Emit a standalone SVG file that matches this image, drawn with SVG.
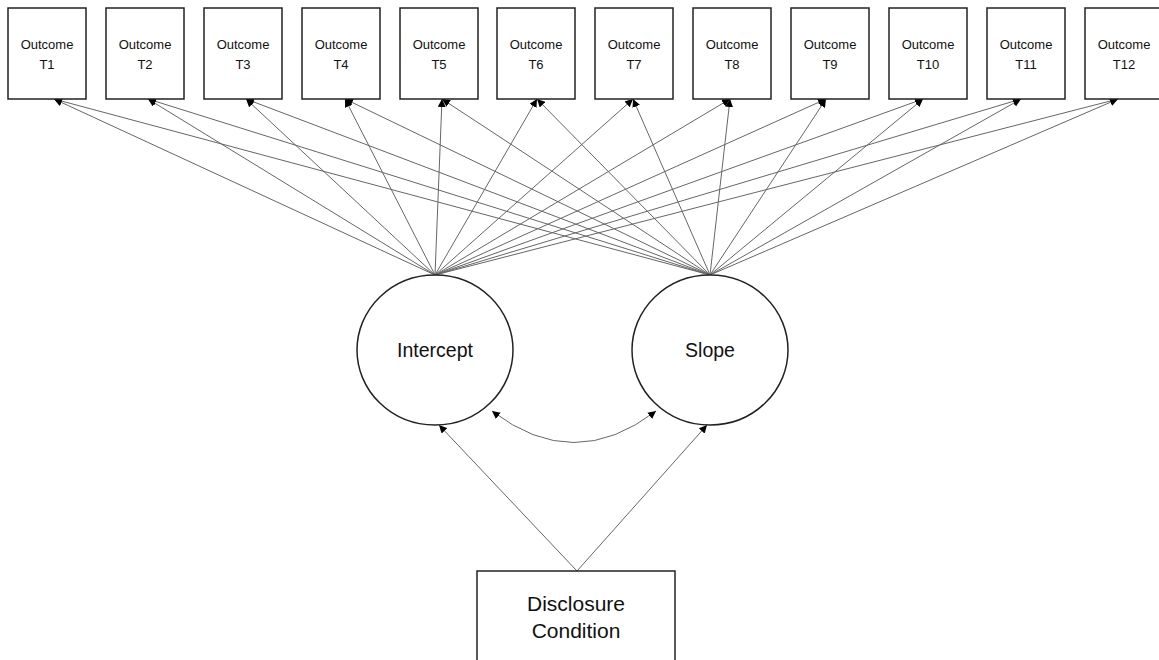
<svg xmlns="http://www.w3.org/2000/svg" width="1159" height="660" viewBox="0 0 1159 660">
<style>
.box{fill:#fff;stroke:#222;stroke-width:1.5}
.t{font-family:"Liberation Sans",Arial,sans-serif;font-size:13px;fill:#111;text-anchor:middle}
.big{font-family:"Liberation Sans",Arial,sans-serif;font-size:19.5px;fill:#111;text-anchor:middle}
.dc{font-family:"Liberation Sans",Arial,sans-serif;font-size:21px;fill:#111;text-anchor:middle}
.c{fill:none;stroke:#666;stroke-width:1}
</style>
<defs>
<marker id="ah" viewBox="0 0 10 10" refX="10" refY="5" markerWidth="8" markerHeight="8" markerUnits="userSpaceOnUse" orient="auto-start-reverse">
<path d="M0,0 L10,5 L0,10 z" fill="#000"/>
</marker>
</defs>
<rect width="1159" height="660" fill="#fff"/>
<g id="connectors">
<g marker-end="url(#ah)" class="c">
<line x1="435" y1="275" x2="54" y2="99"/>
<line x1="710" y1="275" x2="54" y2="99"/>
<line x1="435" y1="275" x2="148" y2="99"/>
<line x1="710" y1="275" x2="148" y2="99"/>
<line x1="435" y1="275" x2="246" y2="99"/>
<line x1="710" y1="275" x2="246" y2="99"/>
<line x1="435" y1="275" x2="345" y2="99"/>
<line x1="710" y1="275" x2="345" y2="99"/>
<line x1="435" y1="275" x2="442" y2="99"/>
<line x1="710" y1="275" x2="442" y2="99"/>
<line x1="435" y1="275" x2="537" y2="99"/>
<line x1="710" y1="275" x2="537" y2="99"/>
<line x1="435" y1="275" x2="633" y2="99"/>
<line x1="710" y1="275" x2="633" y2="99"/>
<line x1="435" y1="275" x2="730" y2="99"/>
<line x1="710" y1="275" x2="730" y2="99"/>
<line x1="435" y1="275" x2="826" y2="99"/>
<line x1="710" y1="275" x2="826" y2="99"/>
<line x1="435" y1="275" x2="923" y2="99"/>
<line x1="710" y1="275" x2="923" y2="99"/>
<line x1="435" y1="275" x2="1021" y2="99"/>
<line x1="710" y1="275" x2="1021" y2="99"/>
<line x1="435" y1="275" x2="1118" y2="99"/>
<line x1="710" y1="275" x2="1118" y2="99"/>
<line x1="577" y1="571" x2="439" y2="425"/>
<line x1="577" y1="571" x2="707" y2="425"/>
</g>
<path class="c" d="M492,411 Q574,474 656,411" marker-start="url(#ah)" marker-end="url(#ah)"/>
</g>
<g id="t1"><rect class="box" x="8" y="8" width="78" height="91"/><text class="t" x="47" y="49">Outcome</text><text class="t" x="47" y="69">T1</text></g>
<g id="t2"><rect class="box" x="106" y="8" width="78" height="91"/><text class="t" x="145" y="49">Outcome</text><text class="t" x="145" y="69">T2</text></g>
<g id="t3"><rect class="box" x="204" y="8" width="78" height="91"/><text class="t" x="243" y="49">Outcome</text><text class="t" x="243" y="69">T3</text></g>
<g id="t4"><rect class="box" x="302" y="8" width="78" height="91"/><text class="t" x="341" y="49">Outcome</text><text class="t" x="341" y="69">T4</text></g>
<g id="t5"><rect class="box" x="400" y="8" width="78" height="91"/><text class="t" x="439" y="49">Outcome</text><text class="t" x="439" y="69">T5</text></g>
<g id="t6"><rect class="box" x="497" y="8" width="78" height="91"/><text class="t" x="536" y="49">Outcome</text><text class="t" x="536" y="69">T6</text></g>
<g id="t7"><rect class="box" x="595" y="8" width="78" height="91"/><text class="t" x="634" y="49">Outcome</text><text class="t" x="634" y="69">T7</text></g>
<g id="t8"><rect class="box" x="693" y="8" width="78" height="91"/><text class="t" x="732" y="49">Outcome</text><text class="t" x="732" y="69">T8</text></g>
<g id="t9"><rect class="box" x="791" y="8" width="78" height="91"/><text class="t" x="830" y="49">Outcome</text><text class="t" x="830" y="69">T9</text></g>
<g id="t10"><rect class="box" x="889" y="8" width="78" height="91"/><text class="t" x="928" y="49">Outcome</text><text class="t" x="928" y="69">T10</text></g>
<g id="t11"><rect class="box" x="987" y="8" width="78" height="91"/><text class="t" x="1026" y="49">Outcome</text><text class="t" x="1026" y="69">T11</text></g>
<g id="t12"><rect class="box" x="1085" y="8" width="78" height="91"/><text class="t" x="1124" y="49">Outcome</text><text class="t" x="1124" y="69">T12</text></g>
<g id="intercept"><ellipse class="box" cx="435" cy="350" rx="78" ry="75"/><text class="big" x="435" y="357">Intercept</text></g>
<g id="slope"><ellipse class="box" cx="710" cy="350" rx="78" ry="75"/><text class="big" x="710" y="357">Slope</text></g>
<g id="disclosure"><rect class="box" x="477" y="571" width="198" height="100"/><text class="dc" x="576" y="611">Disclosure</text><text class="dc" x="576" y="638">Condition</text></g>
</svg>
